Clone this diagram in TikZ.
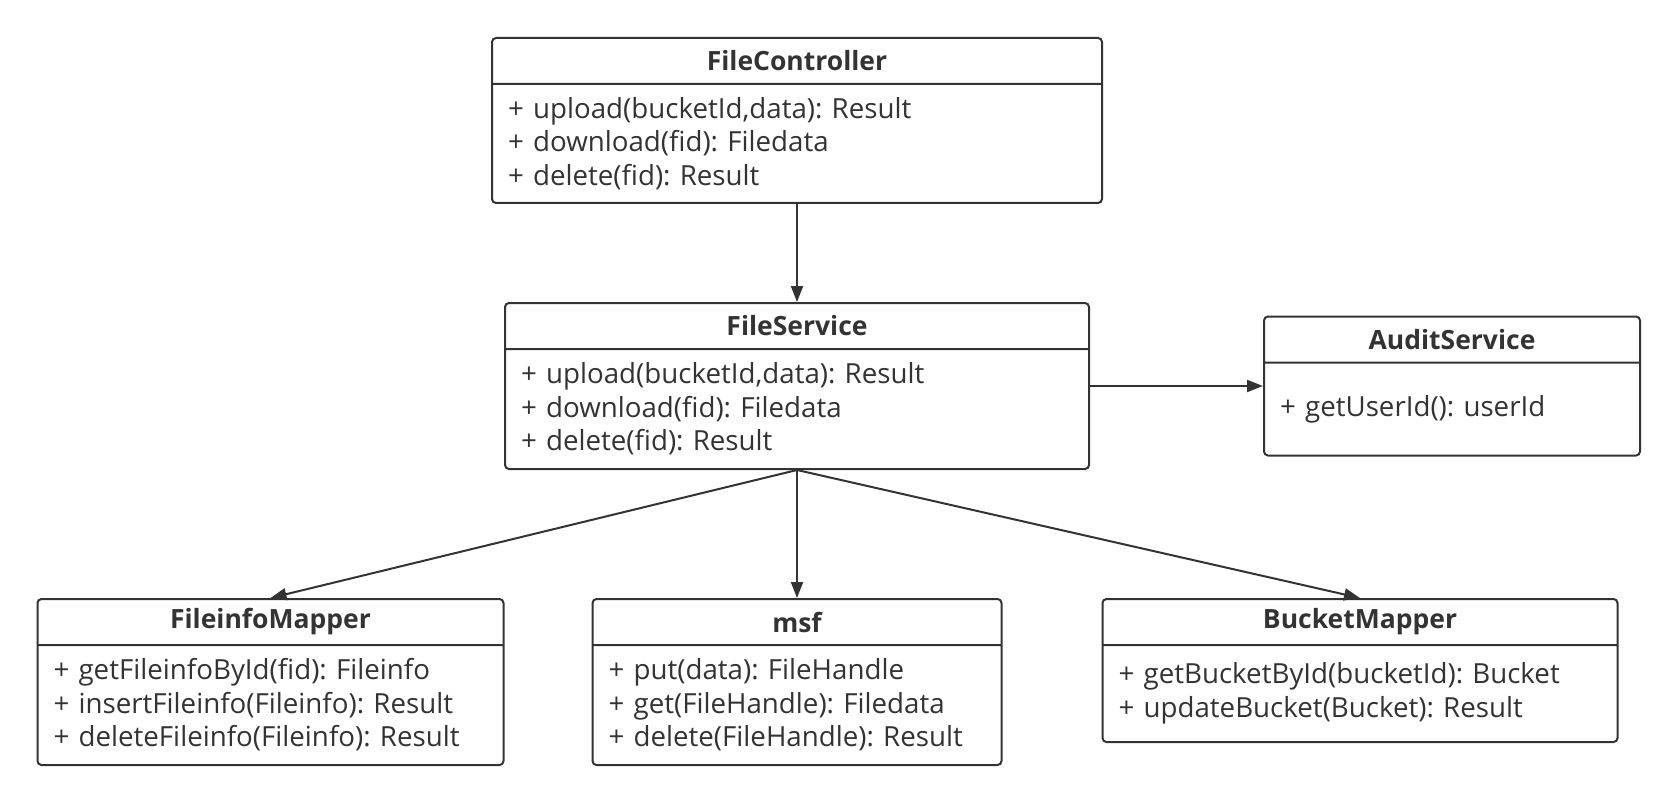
\documentclass[tikz,border=0pt]{standalone}
\usepackage{fontspec}
\setmainfont{Open Sans}
\usepackage{tikz}
\usetikzlibrary{arrows.meta,positioning,shapes.multipart}
\definecolor{umlgray}{HTML}{333333}
\frenchspacing

\newcommand{\ctitle}[1]{\noindent\parbox[c][44pt][c]{\hsize}{\centering\fontsize{26.5}{30}\selectfont\bfseries #1}}
\newcommand{\cbody}[2]{\noindent\parbox[c][#1][c]{\hsize}{#2}}

\begin{document}
\begin{tikzpicture}[x=1pt,y=-1pt,>={Triangle[length=16pt,width=12pt]},line width=2pt,
    umlclass/.style={rectangle split,rectangle split parts=2,draw=umlgray,text=umlgray,
      rounded corners=4pt,inner xsep=16pt,inner ysep=0pt,
      font=\fontsize{27.7}{33.5}\selectfont}]
  \useasboundingbox (0,0) rectangle (1677,802);

  \node[umlclass,text width=578pt,anchor=north] (ctrl) at (797,37)
    {\ctitle{FileController}\nodepart{two}\cbody{117pt}{+ upload(bucketId,data): Result\\
      + download(fid): Filedata\\+ delete(fid): Result}};
  \node[umlclass,text width=552pt] (service) [below=98pt of ctrl]
    {\ctitle{FileService}\nodepart{two}\cbody{118pt}{+ upload(bucketId,data): Result\\
      + download(fid): Filedata\\+ delete(fid): Result}};
  \node[umlclass,text width=344pt] (audit) [right=173pt of service]
    {\ctitle{AuditService}\nodepart{two}\cbody{91pt}{+ getUserId(): userId}};
  \node[umlclass,text width=377pt] (msf) [below=128pt of service]
    {\ctitle{msf}\nodepart{two}\cbody{118pt}{+ put(data): FileHandle\\
      + get(FileHandle): Filedata\\+ delete(FileHandle): Result}};
  \node[umlclass,text width=434pt] (fim) [left=87pt of msf]
    {\ctitle{FileinfoMapper}\nodepart{two}\cbody{118pt}{+ getFileinfoById(fid): Fileinfo\\
      + insertFileinfo(Fileinfo): Result\\+ deleteFileinfo(Fileinfo): Result}};
  \node[umlclass,text width=483pt] (bm) [right=99pt of msf.north east,anchor=north west]
    {\ctitle{BucketMapper}\nodepart{two}\cbody{95pt}{+ getBucketById(bucketId): Bucket\\
      + updateBucket(Bucket): Result}};

  \path[->,umlgray] (ctrl) edge (service)
        (service) edge (audit)
        (service.south) edge (fim.north)
                        edge (msf.north)
                        edge (bm.north);
\end{tikzpicture}
\end{document}
